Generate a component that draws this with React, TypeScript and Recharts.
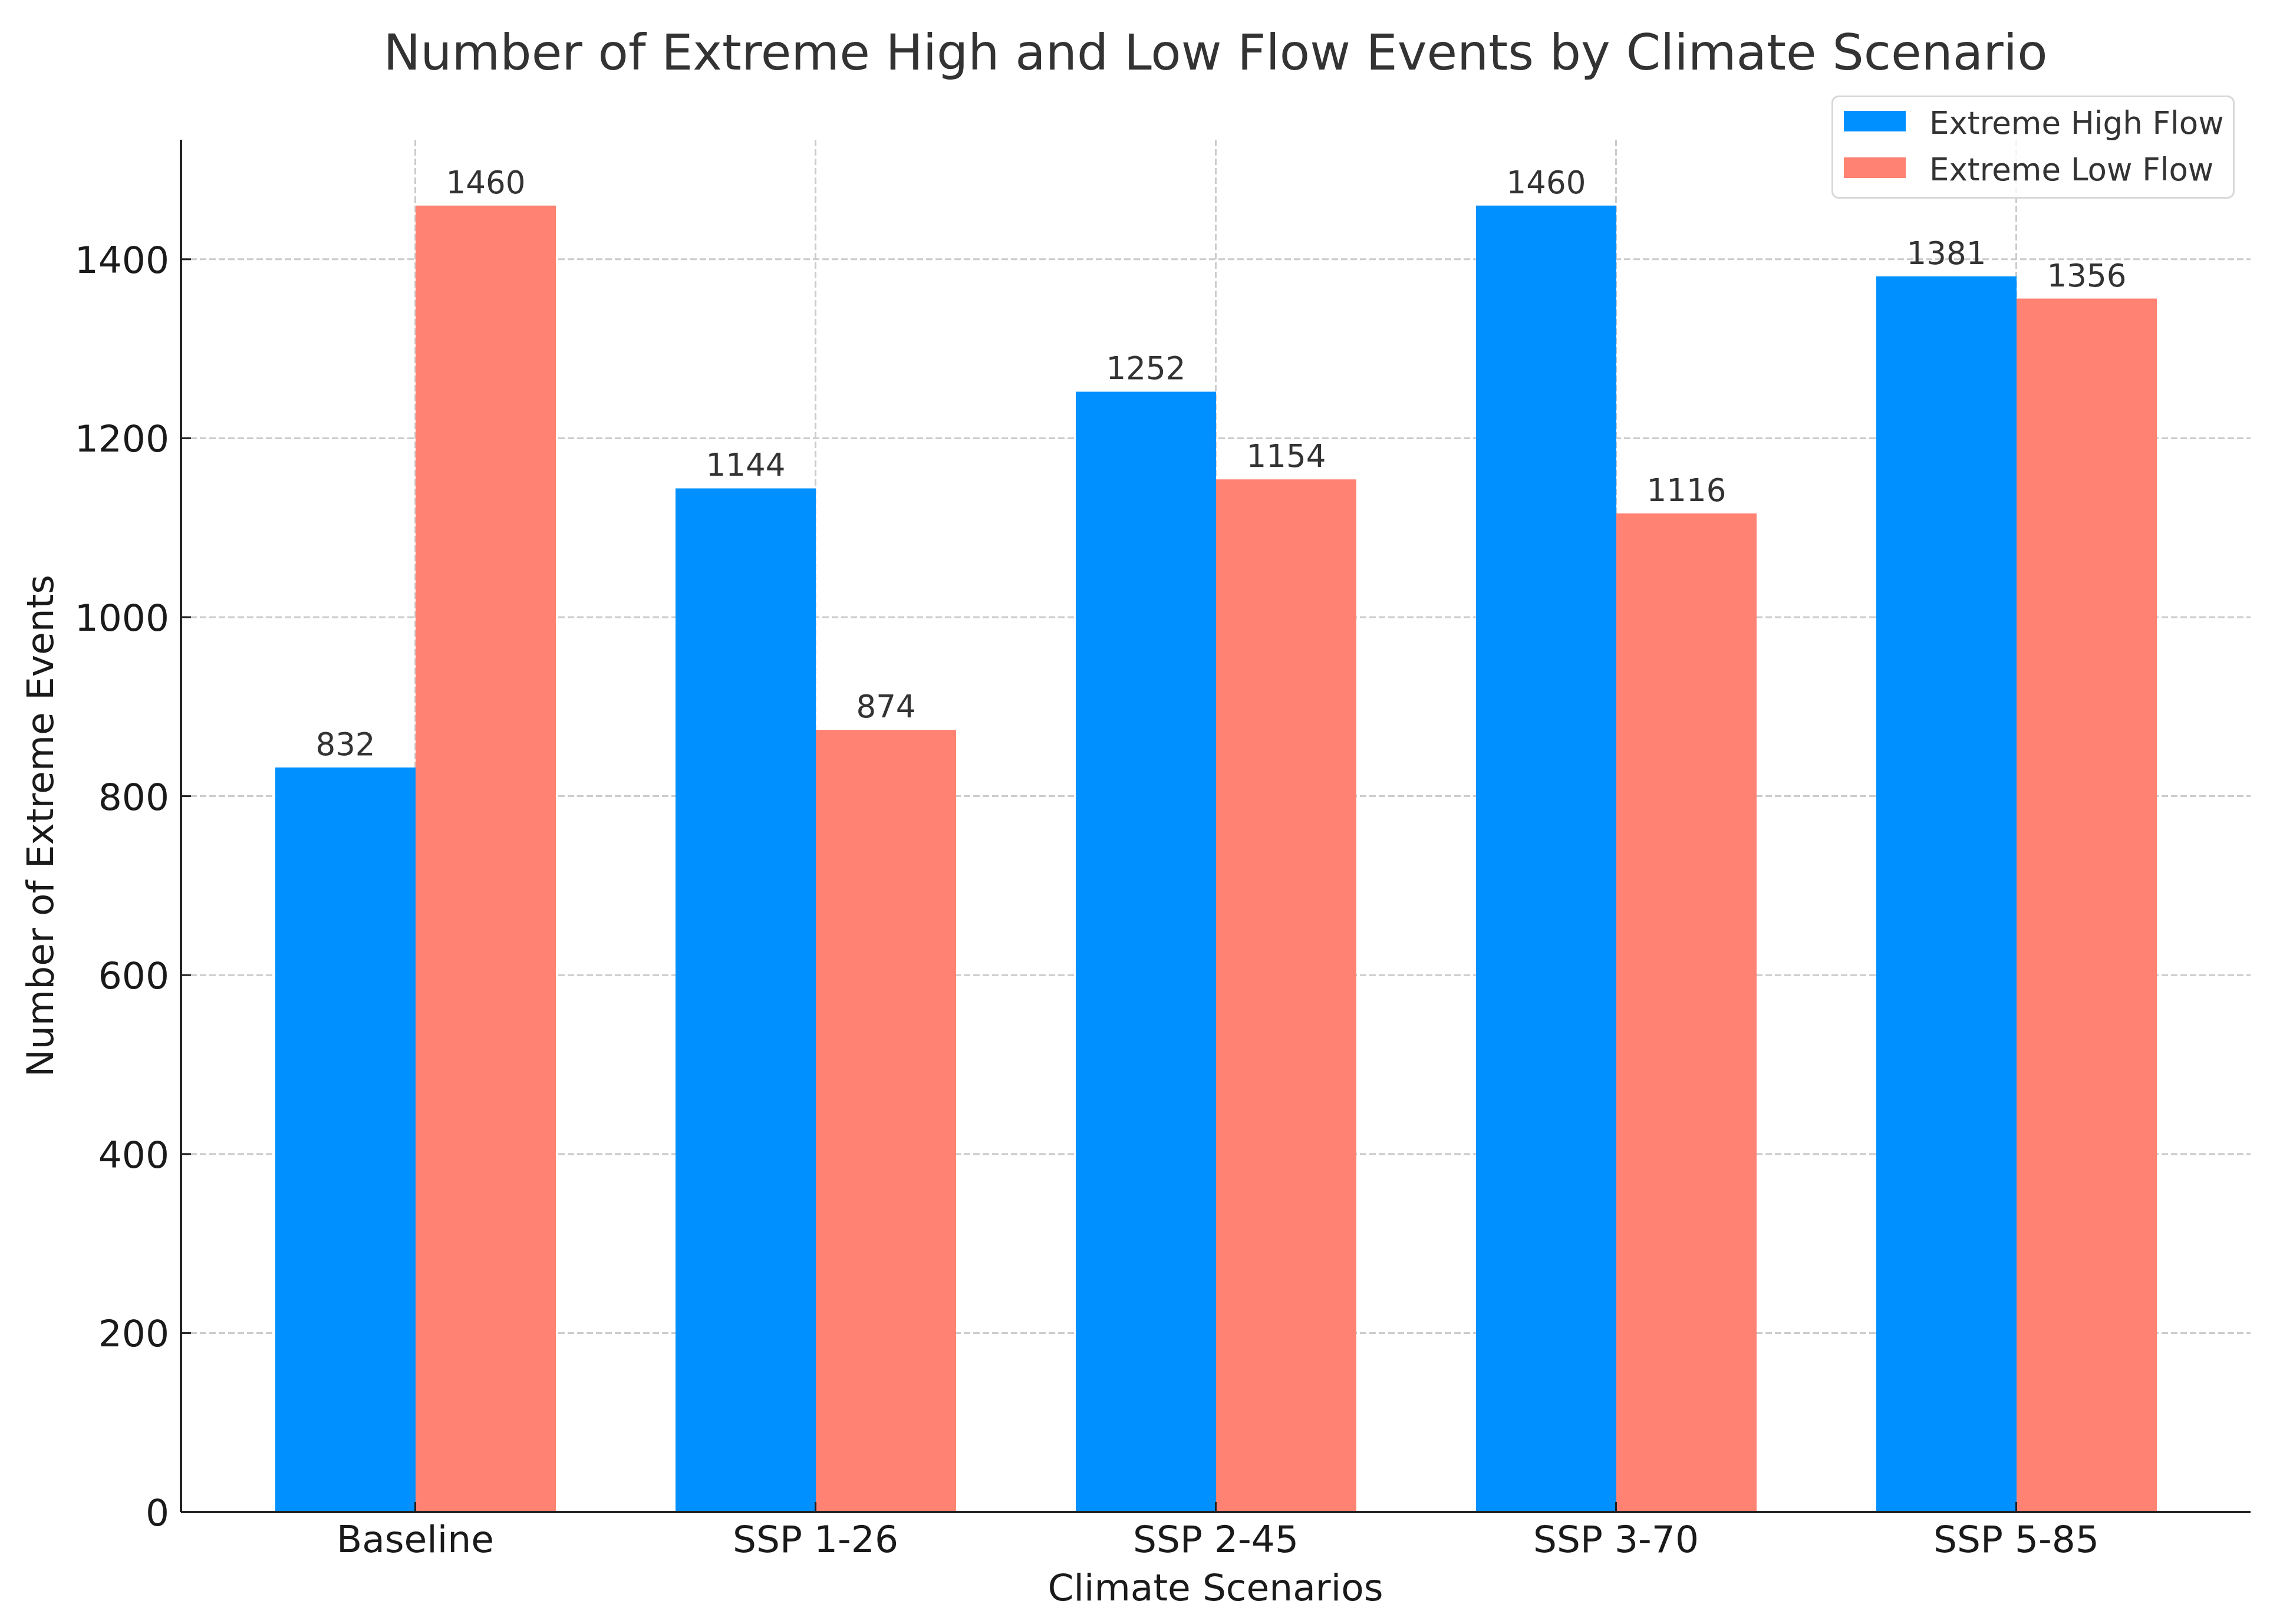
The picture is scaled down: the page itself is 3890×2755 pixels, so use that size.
import React from 'react';
import { BarChart, Bar, XAxis, YAxis, CartesianGrid, Legend, LabelList } from 'recharts';

const scenarios = ['Baseline', 'SSP 1-26', 'SSP 2-45', 'SSP 3-70', 'SSP 5-85'];
const highFlow = [832, 1144, 1252, 1460, 1381];
const lowFlow = [1460, 874, 1154, 1116, 1356];
const yTicks = [0, 200, 400, 600, 800, 1000, 1200, 1400];

const data = scenarios.map((scenario, i) => ({
  scenario,
  high: highFlow[i],
  low: lowFlow[i],
}));

const FONT = '"DejaVu Sans", sans-serif';
const BLUE = '#0090ff';
const SALMON = '#ff8272';
const INK = '#1a1a1a';

// plot box: left 307, right 3818, top 237, bottom 2565
const Y_AXIS_W = 120;
const X_AXIS_H = 100;

const XTick = (props: any) => {
  const { x, y, payload } = props;
  return (
    <text x={x} y={y + 68} textAnchor="middle" fontSize={63} fontFamily={FONT} fill={INK}>
      {payload.value}
    </text>
  );
};

const YTick = (props: any) => {
  const { x, y, payload } = props;
  return (
    <text x={x - 20} y={y + 23} textAnchor="end" fontSize={63} fontFamily={FONT} fill={INK}>
      {payload.value}
    </text>
  );
};

const renderValue = (props: any) => {
  const { x, y, width, value } = props;
  return (
    <text x={x + width / 2} y={y - 21} textAnchor="middle" fontSize={53} fontFamily={FONT} fill="#333333">
      {value}
    </text>
  );
};

const renderLegend = (props: any) => {
  const { payload = [] } = props;
  return (
    <div
      style={{
        width: 684,
        height: 175,
        boxSizing: 'border-box',
        border: '3px solid #d9d9d9',
        borderRadius: 12,
        background: 'rgba(255,255,255,0.8)',
        position: 'relative',
      }}
    >
      <svg width={678} height={169} style={{ position: 'absolute', left: 0, top: 0 }}>
        {payload.map((entry: any, i: number) => (
          <g key={entry.value}>
            <rect x={18} y={23 + i * 79} width={105} height={35} fill={entry.color} />
            <text x={163} y={62 + i * 79} fontSize={53} fontFamily={FONT} fill="#333333">
              {entry.value}
            </text>
          </g>
        ))}
      </svg>
    </div>
  );
};

export default function App() {
  return (
    <div>
      <style>{'body{margin:0}'}</style>
      <BarChart
        width={3890}
        height={2755}
        data={data}
        barGap={0}
        margin={{ top: 237, right: 72, bottom: 2755 - 2565 - X_AXIS_H, left: 307 - Y_AXIS_W }}
      >
        {/* syncWithTicks: lines only at ticks, no frame at the plot edges */}
        <CartesianGrid stroke="#cccccc" strokeWidth={3} strokeDasharray="11 5" syncWithTicks />
        <XAxis
          dataKey="scenario"
          interval={0}
          height={X_AXIS_H}
          padding={{ left: 58, right: 58 }}
          tickSize={-17}
          tickMargin={17}
          axisLine={{ stroke: '#222222', strokeWidth: 4 }}
          tickLine={{ stroke: '#222222', strokeWidth: 3 }}
          tick={<XTick />}
        />
        <YAxis
          type="number"
          domain={[0, 1533.6]}
          ticks={yTicks}
          interval={0}
          width={Y_AXIS_W}
          tickSize={-17}
          tickMargin={17}
          axisLine={{ stroke: '#222222', strokeWidth: 4 }}
          tickLine={{ stroke: '#222222', strokeWidth: 3 }}
          tick={<YTick />}
        />
        <Legend
          layout="horizontal"
          verticalAlign="middle"
          align="center"
          wrapperStyle={{ left: 3107, top: 162, width: 684, height: 175 }}
          content={renderLegend}
        />
        <Bar dataKey="high" name="Extreme High Flow" fill={BLUE} barSize={238} isAnimationActive={false}>
          <LabelList dataKey="high" content={renderValue} />
        </Bar>
        <Bar dataKey="low" name="Extreme Low Flow" fill={SALMON} barSize={238} isAnimationActive={false}>
          <LabelList dataKey="low" content={renderValue} />
        </Bar>
        <text x={2062} y={118} textAnchor="middle" fontSize={84} fontFamily={FONT} fill="#333333">
          Number of Extreme High and Low Flow Events by Climate Scenario
        </text>
        <text x={2062} y={2715} textAnchor="middle" fontSize={63} fontFamily={FONT} fill={INK}>
          Climate Scenarios
        </text>
        <text
          x={90}
          y={1401}
          transform="rotate(-90, 90, 1401)"
          textAnchor="middle"
          fontSize={63}
          fontFamily={FONT}
          fill={INK}
        >
          Number of Extreme Events
        </text>
      </BarChart>
    </div>
  );
}
